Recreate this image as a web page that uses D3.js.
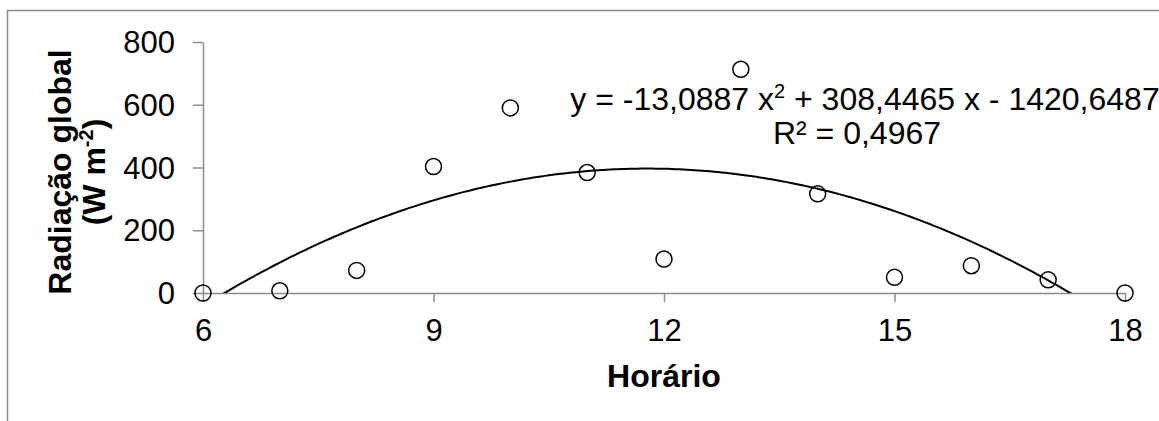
<!DOCTYPE html>
<html>
<head>
<meta charset="utf-8">
<script src="https://cdn.jsdelivr.net/npm/d3@7"></script>
<style>
  body { margin: 0; background: #fff; }
  text { font-family: "Liberation Sans", Arial, sans-serif; }
</style>
</head>
<body>
<main></main>
<script>
var hours = [6, 7, 8, 9, 10, 11, 12, 13, 14, 15, 16, 17, 18]
var radiation = [0, 7, 72, 403, 590, 384, 108, 713, 316, 50, 87, 42, 0]
var xTicks = [6, 9, 12, 15, 18]
var yTicks = [0, 200, 400, 600, 800]
// trendline coefficients from the label: a x^2 + b x + c
var trend = [-13.0887, 308.4465, -1420.6487]

var width = 1159, height = 421

var svg = d3.select('main')
    .append('svg')
    .attr('width', width)
    .attr('height', height)

// outer chart frame (only left and top are visible)
svg.append('rect')
    .attr('x', 7.5)
    .attr('y', 10.5)
    .attr('width', width + 20)
    .attr('height', height + 20)
    .attr('fill', 'none')
    .attr('stroke', '#8c8c8c')
    .attr('stroke-width', 1.5)

var x = d3.scaleLinear()
    .domain([6, 18])
    .range([203, 1125])

var y = d3.scaleLinear()
    .domain([0, 800])
    .range([293, 42])

var gray = '#8c8c8c'

var xAxis = svg.append('g')
    .attr('transform', 'translate(0,' + y(0) + ')')
    .call(d3.axisBottom(x).tickValues(xTicks).tickSizeInner(9).tickSizeOuter(0).tickPadding(17))
xAxis.select('.domain').attr('stroke', gray).attr('stroke-width', 1.5)
xAxis.selectAll('.tick line').attr('stroke', gray).attr('stroke-width', 1.5)
xAxis.selectAll('.tick text')
    .attr('fill', '#000')
    .style('font-size', '31px')
    .style('font-family', '"Liberation Sans", Arial, sans-serif')

var yAxis = svg.append('g')
    .attr('transform', 'translate(' + x(6) + ',0)')
    .call(d3.axisLeft(y).tickValues(yTicks).tickSizeInner(10).tickSizeOuter(0).tickPadding(18))
yAxis.select('.domain').attr('stroke', gray).attr('stroke-width', 1.5)
yAxis.selectAll('.tick line').attr('stroke', gray).attr('stroke-width', 1.5)
yAxis.selectAll('.tick text')
    .attr('fill', '#000')
    .attr('dy', '0.34em')
    .style('font-size', '31px')
    .style('font-family', '"Liberation Sans", Arial, sans-serif')

// trendline, clipped at the axis minimum
svg.append('clipPath')
    .attr('id', 'plotClip')
    .append('rect')
    .attr('x', x(6))
    .attr('y', 0)
    .attr('width', x(18) - x(6))
    .attr('height', y(0))

var trendX = d3.range(6, 18.0001, 0.05)
var line = d3.line()
    .x(function(d) { return x(d) })
    .y(function(d) { return y(trend[0] * d * d + trend[1] * d + trend[2]) })

svg.append('path')
    .datum(trendX)
    .attr('clip-path', 'url(#plotClip)')
    .attr('d', line)
    .attr('fill', 'none')
    .attr('stroke', '#000')
    .attr('stroke-width', 2)

svg.append('g')
    .selectAll('circle').data(radiation)
    .enter().append('circle')
        .attr('cx', function(d, i) { return x(hours[i]) })
        .attr('cy', function(d) { return y(d) })
        .attr('r', 8)
        .attr('fill', 'none')
        .attr('stroke', '#000')
        .attr('stroke-width', 1.5)

// trendline label
var eq = svg.append('text')
    .attr('x', 865)
    .attr('y', 110)
    .attr('text-anchor', 'middle')
    .style('font-size', '32px')
eq.append('tspan').text('y = -13,0887 x')
eq.append('tspan').attr('dy', -12).style('font-size', '20px').text('2')
eq.append('tspan').attr('dy', 12).text(' + 308,4465 x - 1420,6487')

svg.append('text')
    .attr('x', 857)
    .attr('y', 144)
    .attr('text-anchor', 'middle')
    .style('font-size', '32px')
    .text('R² = 0,4967')

// axis titles
svg.append('text')
    .attr('x', 664)
    .attr('y', 387)
    .attr('text-anchor', 'middle')
    .style('font-size', '32px')
    .style('font-weight', 'bold')
    .text('Horário')

var yTitle = svg.append('text')
    .attr('transform', 'translate(71,172) rotate(-90)')
    .attr('text-anchor', 'middle')
    .style('font-size', '32px')
    .style('font-weight', 'bold')
yTitle.append('tspan').attr('x', 0).attr('y', 0).text('Radiação global')
var unit = yTitle.append('tspan').attr('x', 0).attr('y', 34)
unit.append('tspan').text('(W m')
unit.append('tspan').attr('dy', -12).style('font-size', '20px').text('-2')
unit.append('tspan').attr('dy', 12).text(')')
</script>
</body>
</html>
